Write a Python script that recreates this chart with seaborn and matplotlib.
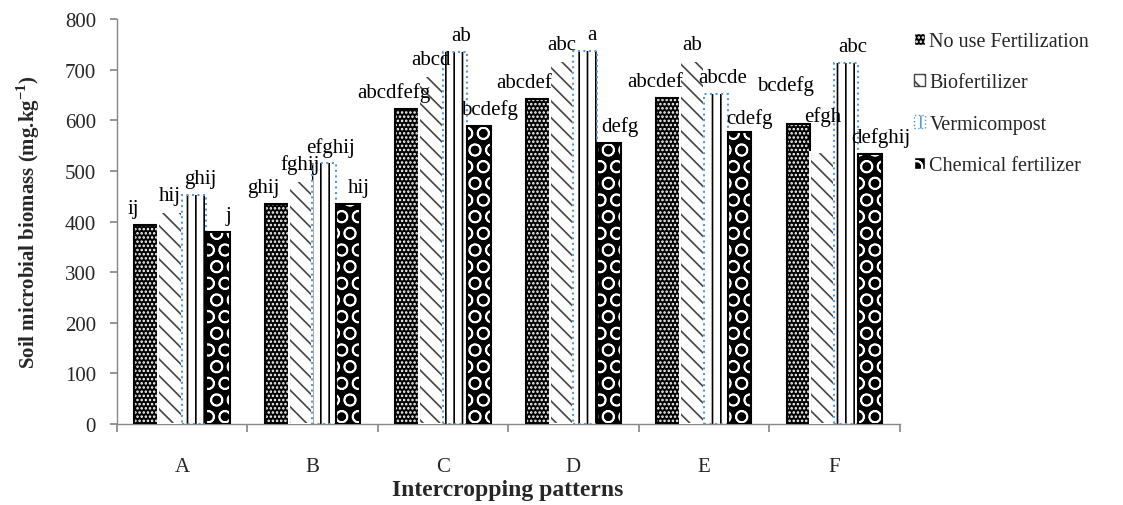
import matplotlib
matplotlib.use("Agg")
import matplotlib.pyplot as plt
from matplotlib.patches import Patch
import seaborn as sns
import pandas as pd
import numpy as np

patterns = ["A", "B", "C", "D", "E", "F"]
treatments = ["No use Fertilization", "Biofertilizer", "Vermicompost", "Chemical fertilizer"]
no_use = [393, 434, 622, 642, 644, 593]
biofert = [420, 480, 688, 718, 718, 537]
vermi = [452, 515, 735, 737, 652, 714]
chemical = [380, 434, 589, 556, 577, 533]
letters_no_use = ["ij", "ghij", "abcdfefg", "abcdef", "abcdef", "bcdefg"]
letters_bio = ["hij", "fghij", "abcd", "abc", "ab", "efgh"]
letters_vermi = ["ghij", "efghij", "ab", "a", "abcde", "abc"]
letters_chem = ["j", "hij", "bcdefg", "defg", "cdefg", "defghij"]

series = [no_use, biofert, vermi, chemical]
letters = [letters_no_use, letters_bio, letters_vermi, letters_chem]

rows = []
for t, vals in zip(treatments, series):
    for p, v in zip(patterns, vals):
        rows.append({"pattern": p, "treatment": t, "value": v})
df = pd.DataFrame(rows)

sns.set_theme(style="white")
plt.rcParams["font.family"] = ["Liberation Serif", "DejaVu Serif"]
plt.rcParams["mathtext.fontset"] = "custom"
plt.rcParams["mathtext.rm"] = "Liberation Serif"
plt.rcParams["mathtext.bf"] = "Liberation Serif:bold"
plt.rcParams["hatch.linewidth"] = 1.2

fig = plt.figure(figsize=(11.23, 5.06), dpi=100)
ax = fig.add_axes([0.104, 0.16, 0.697, 0.80])

sns.barplot(data=df, x="pattern", y="value", hue="treatment", order=patterns,
            hue_order=treatments, ax=ax, width=0.73, gap=0, legend=False,
            errorbar=None, saturation=1)

styles = [
    dict(face="black", hatch="....", hcol="white", edge="black", ls="-"),
    dict(face="white", hatch="\\\\", hcol="#444444", edge="white", ls="-"),
    dict(face="white", hatch="||", hcol="black", edge="#5B9BD5", ls=":"),
    dict(face="black", hatch="O", hcol="white", edge="black", ls="-"),
]

n = len(patterns)
bars = ax.patches[: n * len(treatments)]
for i, b in enumerate(bars):
    s = styles[i // n]
    b.set_facecolor(s["face"])
    b.set_hatch(s["hatch"])
    b.set_edgecolor(s["hcol"])
    b.set_linewidth(0)
    ax.bar(b.get_x() + b.get_width() / 2, b.get_height(), width=b.get_width(),
           fill=False, edgecolor=s["edge"], linestyle=s["ls"], linewidth=1.5, zorder=3)

# label placement (layout only)
label_dx = [-0.1, 0.0, 0.05, 0.08]
label_lift = {(0, 5): 16, (1, 5): 14, (3, 4): -2}
for si in range(len(treatments)):
    for gi in range(n):
        b = bars[si * n + gi]
        x = b.get_x() + b.get_width() / 2 + label_dx[si]
        ax.annotate(letters[si][gi], (x, b.get_height()),
                    xytext=(0, 5 + label_lift.get((si, gi), 0)),
                    textcoords="offset points", ha="center", va="bottom",
                    fontsize=15, color="black", zorder=5)

ax.set_ylim(0, 800)
ax.set_xlim(-0.5, 5.5)
ax.set_yticks(np.arange(0, 801, 100))
ax.set_xticks(np.arange(-0.5, 5.6, 1.0))
ax.set_xticklabels([])
ax.set_xticks(range(n), minor=True)
ax.set_xticklabels(patterns, minor=True)
ax.tick_params(axis="x", which="major", length=6, color="#888888", direction="out", bottom=True)
ax.tick_params(axis="x", which="minor", length=0, pad=24, labelsize=15)
ax.tick_params(axis="y", length=5, color="#888888", direction="out", left=True,
               labelsize=15, pad=10)

for sp in ["top", "right"]:
    ax.spines[sp].set_visible(False)
for sp in ["left", "bottom"]:
    ax.spines[sp].set_color("#888888")
    ax.spines[sp].set_linewidth(1)

ax.set_xlabel("Intercropping patterns", fontsize=17, fontweight="bold", labelpad=2)
ax.set_ylabel("Soil microbial biomass (mg.kg$^{\\mathbf{-1}}$)", fontsize=15,
              fontweight="bold", labelpad=16)

handles = [Patch(facecolor=s["face"], hatch=s["hatch"],
                 edgecolor=s["hcol"] if i != 2 else s["edge"], linestyle=s["ls"])
           for i, s in enumerate(styles)]
fig.legend(handles, treatments, loc="upper left", bbox_to_anchor=(0.798, 0.97),
           frameon=False, fontsize=14.5, handlelength=0.55, handleheight=0.55,
           handletextpad=0.2, labelspacing=1.1)

fig.savefig("out.png", dpi=100)
